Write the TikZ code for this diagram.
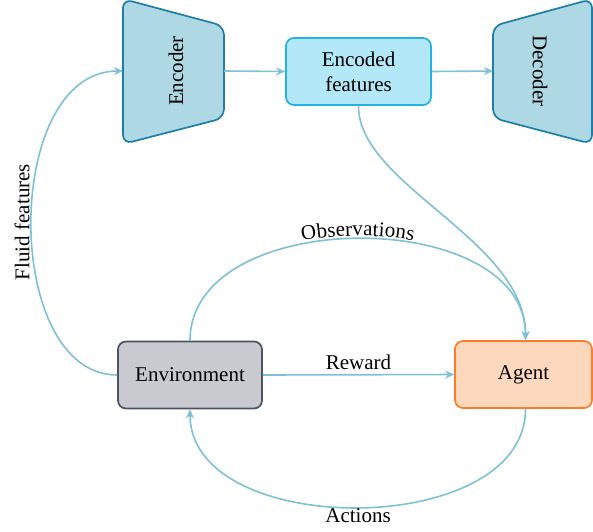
\documentclass[tikz,border=0pt]{standalone}
\usepackage{fontspec}
\setmainfont{Liberation Serif}
\usetikzlibrary{arrows.meta,decorations.text}
\definecolor{conncol}{HTML}{7EC0D6}
\definecolor{codfill}{HTML}{AED8E4}
\definecolor{coddraw}{HTML}{1F7EA6}
\definecolor{featfill}{HTML}{B3E8F8}
\definecolor{featdraw}{HTML}{22B3E6}
\definecolor{envfill}{HTML}{C9CACF}
\definecolor{envdraw}{HTML}{4A5361}
\definecolor{agfill}{HTML}{FDD8BD}
\definecolor{agdraw}{HTML}{F97F2C}
\newcommand{\lblfont}{\fontsize{21}{25}\selectfont}
\tikzset{
  x=1pt, y=-1pt,
  conn/.style={draw=conncol, line width=1.6pt, -{Stealth[length=9pt,width=8pt,inset=3pt]}},
  coderbox/.style={fill=codfill, draw=coddraw, line width=1.7pt, rounded corners=9pt},
  boxbase/.style={rectangle, rounded corners=8pt, line width=1.7pt, font=\lblfont, align=center, inner sep=0pt},
  featbox/.style={boxbase, fill=featfill, draw=featdraw, minimum width=145pt, minimum height=67pt},
  envbox/.style={boxbase, fill=envfill, draw=envdraw, minimum width=144pt, minimum height=67pt},
  agbox/.style={boxbase, fill=agfill, draw=agdraw, minimum width=137pt, minimum height=67pt},
  lbl/.style={font=\lblfont, inner sep=0pt}
}
\begin{document}
\begin{tikzpicture}
\useasboundingbox (0,0) rectangle (593,531);
% encoder / decoder shapes
\draw[coderbox] (123,-1) -- (224,26) -- (224,118) -- (123,144) -- cycle;
\draw[coderbox] (493,26) -- (592,-1) -- (592,144) -- (493,118) -- cycle;
\node[lbl, rotate=90] (enc) at (176,71) {Encoder};
\node[lbl, rotate=-90] (dec) at (540,71) {Decoder};
\coordinate (encW) at (123,71);
\coordinate (encE) at (224,71);
\coordinate (decW) at (493,71);
% boxes
\node[featbox] (feat) at (358.5,71.5) {Encoded\\features};
\node[envbox] (env) at (190,375) {Environment};
\node[agbox] (agent) at (523.5,374.5) {Agent};
% connectors
\draw[conn] (encE) -- (feat.west);
\draw[conn] (feat.east) -- (decW);
\draw[conn] (env.east) -- node[lbl, above=4pt] (rew) {Reward} (agent.west);
\draw[conn] (env.west) .. controls (2,375) and (2,71) .. (encW);
\node[lbl, rotate=90] (fluid) at (22,222) {Fluid features};
\draw[conn] (env.north) .. controls (190,205) and (526,205) .. ([xshift=2pt]agent.north);
\path[decorate, decoration={text along path, text={|\lblfont|Observations}, text align=center, raise=3pt}]
  (env.north) .. controls (190,205) and (526,205) .. ([xshift=2pt]agent.north);
\draw[conn] (feat.south) .. controls (358,185) and (526,240) .. ([xshift=2pt]agent.north);
\draw[conn] ([xshift=2pt]agent.south) .. controls (526,540) and (190,540) .. (env.south);
\node[lbl] (act) at (358,516) {Actions};
\end{tikzpicture}
\end{document}
